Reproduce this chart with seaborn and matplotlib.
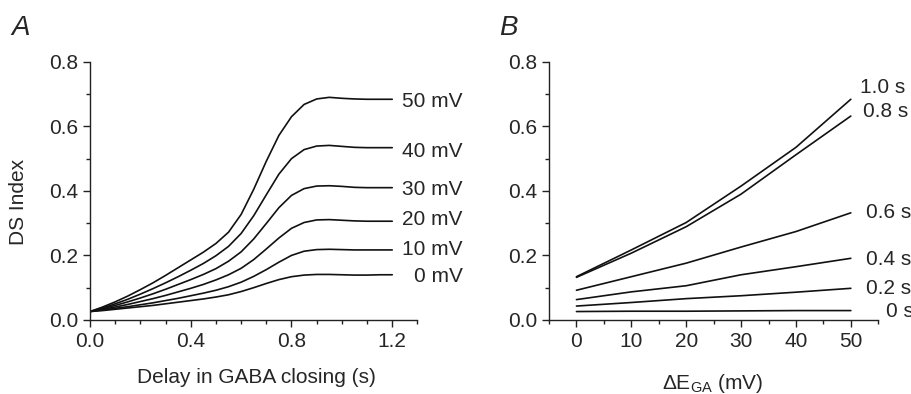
import numpy as np
import pandas as pd
import seaborn as sns
import matplotlib.pyplot as plt
from matplotlib.ticker import MultipleLocator

# Panel A: DS index vs delay in GABA closing, one curve per driving force
delay_s = [0.00, 0.05, 0.10, 0.15, 0.20, 0.25, 0.30, 0.35, 0.40, 0.45, 0.50, 0.55,
           0.60, 0.65, 0.70, 0.75, 0.80, 0.85, 0.90, 0.95, 1.00, 1.05, 1.10, 1.15, 1.20]
ds_50mv = [0.026, 0.040, 0.056, 0.074, 0.094, 0.115, 0.138, 0.162, 0.186, 0.210, 0.237, 0.272,
           0.327, 0.405, 0.492, 0.572, 0.630, 0.668, 0.685, 0.690, 0.687, 0.685, 0.684, 0.684, 0.684]
ds_40mv = [0.026, 0.037, 0.050, 0.064, 0.080, 0.097, 0.115, 0.134, 0.154, 0.175, 0.199, 0.228,
           0.268, 0.323, 0.388, 0.452, 0.500, 0.528, 0.539, 0.541, 0.538, 0.535, 0.534, 0.534, 0.534]
ds_30mv = [0.026, 0.035, 0.045, 0.056, 0.068, 0.081, 0.095, 0.110, 0.125, 0.141, 0.159, 0.182,
           0.211, 0.251, 0.299, 0.348, 0.386, 0.407, 0.415, 0.416, 0.414, 0.411, 0.410, 0.410, 0.410]
ds_20mv = [0.026, 0.033, 0.040, 0.048, 0.057, 0.066, 0.076, 0.087, 0.098, 0.110, 0.124, 0.140,
           0.160, 0.187, 0.220, 0.254, 0.284, 0.302, 0.310, 0.311, 0.309, 0.307, 0.306, 0.306, 0.306]
ds_10mv = [0.026, 0.031, 0.036, 0.041, 0.047, 0.053, 0.060, 0.067, 0.075, 0.083, 0.092, 0.103,
           0.117, 0.135, 0.156, 0.179, 0.200, 0.213, 0.218, 0.219, 0.218, 0.217, 0.217, 0.217, 0.217]
ds_0mv = [0.026, 0.029, 0.033, 0.037, 0.041, 0.045, 0.050, 0.055, 0.060, 0.065, 0.071, 0.078,
          0.088, 0.100, 0.113, 0.125, 0.134, 0.139, 0.141, 0.141, 0.140, 0.139, 0.139, 0.140, 0.140]
labels_a = ["50 mV", "40 mV", "30 mV", "20 mV", "10 mV", "0 mV"]

# Panel B: DS index vs driving force, one line per delay
dE_mv = [0, 10, 20, 30, 40, 50]
ds_10s = [0.134, 0.217, 0.302, 0.415, 0.535, 0.684]
ds_08s = [0.132, 0.207, 0.289, 0.390, 0.512, 0.632]
ds_06s = [0.092, 0.134, 0.176, 0.226, 0.274, 0.332]
ds_04s = [0.063, 0.087, 0.106, 0.140, 0.165, 0.191]
ds_02s = [0.043, 0.054, 0.066, 0.075, 0.086, 0.098]
ds_00s = [0.026, 0.027, 0.027, 0.028, 0.029, 0.029]
labels_b = ["1.0 s", "0.8 s", "0.6 s", "0.4 s", "0.2 s", "0 s"]

sns.set_style("ticks")
plt.rcParams['font.family'] = ['Liberation Sans', 'DejaVu Sans']
plt.rcParams['mathtext.fontset'] = 'custom'
plt.rcParams['mathtext.rm'] = 'Liberation Sans'
plt.rcParams['mathtext.it'] = 'Liberation Sans:italic'

# long-form tables for seaborn
series_a = [ds_50mv, ds_40mv, ds_30mv, ds_20mv, ds_10mv, ds_0mv]
df_a = pd.concat([pd.DataFrame({"delay": delay_s, "ds": s, "curve": lab})
                  for s, lab in zip(series_a, labels_a)])
series_b = [ds_10s, ds_08s, ds_06s, ds_04s, ds_02s, ds_00s]
df_b = pd.concat([pd.DataFrame({"dE": dE_mv, "ds": s, "curve": lab})
                  for s, lab in zip(series_b, labels_b)])

fig = plt.figure(figsize=(9.12, 3.94), dpi=100)
ax_a = fig.add_axes([0.0987, 0.188, 0.359, 0.655])
ax_b = fig.add_axes([0.602, 0.188, 0.361, 0.655])

black = ["#111111"] * 6
sns.lineplot(data=df_a, x="delay", y="ds", hue="curve", palette=black,
             legend=False, lw=1.2, ax=ax_a)
sns.lineplot(data=df_b, x="dE", y="ds", hue="curve", palette=black,
             legend=False, lw=1.2, ax=ax_b)

fs = 15
for ax in (ax_a, ax_b):
    sns.despine(ax=ax)
    ax.set_ylim(0, 0.8)
    ax.yaxis.set_major_locator(MultipleLocator(0.2))
    ax.yaxis.set_minor_locator(MultipleLocator(0.1))
    ax.yaxis.set_major_formatter(plt.FormatStrFormatter('%.1f'))
    ax.tick_params(which='major', length=5, width=1, labelsize=fs, pad=3.5, color='#222222')
    ax.tick_params(which='minor', length=3, width=1, color='#222222')
    for sp in ax.spines.values():
        sp.set_linewidth(1)
        sp.set_color('#222222')

ax_a.set_xlim(0, 1.3)
ax_a.xaxis.set_minor_locator(MultipleLocator(0.1))
ax_a.set_xticks([0.0, 0.4, 0.8, 1.2])
ax_a.xaxis.set_major_formatter(plt.FormatStrFormatter('%.1f'))
ax_a.set_xlabel("Delay in GABA closing (s)", fontsize=fs)
ax_a.set_ylabel("DS Index", fontsize=fs)
ax_a.xaxis.set_label_coords(0.508, -0.186)
ax_a.yaxis.set_label_coords(-0.189, 0.458)

ax_b.set_xlim(-5, 55)
ax_b.set_xticks([0, 10, 20, 30, 40, 50])
ax_b.xaxis.set_minor_locator(MultipleLocator(5))
ax_b.set_xlabel(r"ΔE$_{\rm GA}$ (mV)", fontsize=fs)
ax_b.set_ylabel("")
ax_b.xaxis.set_label_coords(0.498, -0.2)

# curve labels
label_y_a = [0.677, 0.522, 0.405, 0.310, 0.217, 0.136]
label_x_a = [1.24, 1.24, 1.24, 1.24, 1.24, 1.287]
for lab, x, y in zip(labels_a, label_x_a, label_y_a):
    ax_a.text(x, y, lab, fontsize=fs, ha='left', va='center', clip_on=False)

label_y_b = [0.719, 0.645, 0.332, 0.186, 0.096, 0.025]
label_x_b = [51.6, 52.2, 52.7, 52.7, 52.7, 56.4]
for lab, x, y in zip(labels_b, label_x_b, label_y_b):
    ax_b.text(x, y, lab, fontsize=fs, ha='left', va='center', clip_on=False)

fig.text(0.013, 0.911, "A", fontsize=20, style='italic', ha='left', va='baseline')
fig.text(0.547, 0.911, "B", fontsize=20, style='italic', ha='left', va='baseline')

fig.savefig("out.png", dpi=100)
